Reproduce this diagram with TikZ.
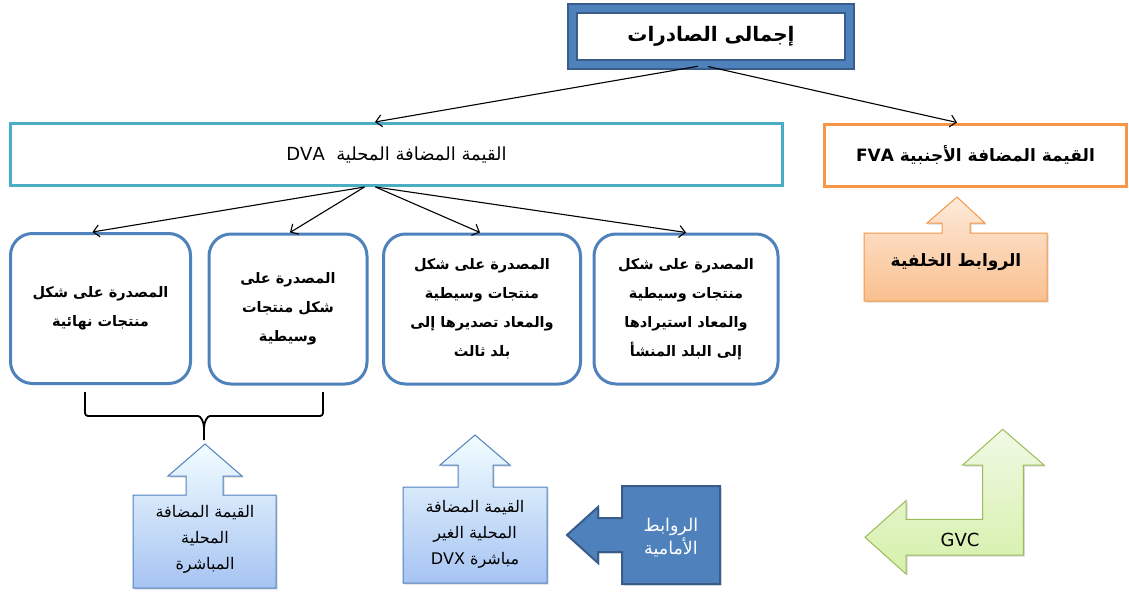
\documentclass[tikz,border=0pt]{standalone}
\usepackage{fontspec}
\setmainfont{DejaVu Sans}
\newfontfamily\arabicfont[Script=Arabic]{DejaVu Sans}
\TeXXeTstate=1
\usetikzlibrary{arrows.meta,shadows}

\newcommand\rtl[1]{\beginR #1\endR}
\newcommand\ltr[1]{\beginL #1\endL}

\definecolor{midblue}{HTML}{4F81BD}
\definecolor{darkblue}{HTML}{385D8A}
\definecolor{dvacyan}{HTML}{4BACC6}
\definecolor{fvaorange}{HTML}{F79646}
\definecolor{gvcgreen}{HTML}{9BBB59}

\begin{document}
\begin{tikzpicture}[x=1pt, y=-1pt, thick,
    title node/.style={draw=darkblue, double=midblue, double distance=7pt, line width=1.8pt,
      fill=white, inner sep=0pt, minimum width=277pt, minimum height=56pt,
      font=\arabicfont\bfseries\fontsize{20}{22}\selectfont},
    value node/.style={line width=3pt, fill=white, inner sep=0pt, minimum height=62pt},
    stage node/.style={draw=midblue, line width=3pt, rounded corners=22pt, fill=white,
      align=center, inner sep=2pt, minimum height=150pt,
      font=\arabicfont\bfseries\fontsize{14.5}{29}\selectfont},
    conn/.style={-{Straight Barb[length=6pt,width=12pt]}, line width=1.1pt},
    block arrow/.style={line width=1pt, drop shadow={shadow xshift=1.5pt, shadow yshift=-1.5pt, opacity=.3}},
    blue arrow/.style={block arrow, draw=midblue, top color=blue!10!cyan!5!white, bottom color={rgb,255:red,166;green,195;blue,242}},
    arrow text/.style={align=center, font=\arabicfont\fontsize{16}{26}\selectfont}]

  \useasboundingbox (0,0) rectangle (1129,594);

  % top level
  \node[title node] (total) at (711,36.5) {\rtl{إجمالى الصادرات}};
  \node[value node, draw=dvacyan, minimum width=772pt] (dva) at (396.5,154.5)
    {\arabicfont\fontsize{18}{20}\selectfont\rtl{القيمة المضافة المحلية\ \ \ltr{DVA}}};
  \node[value node, draw=fvaorange, minimum width=302pt] (fva) at (975.5,155)
    {\arabicfont\bfseries\fontsize{17}{19}\selectfont\rtl{القيمة المضافة الأجنبية \ltr{FVA}}};

  % exported forms
  \node[stage node, minimum width=180pt] (final) at (100.5,308.5)
    {\rtl{المصدرة على شكل}\\\rtl{منتجات نهائية}};
  \node[stage node, minimum width=158pt] (inter) at (288,309)
    {\rtl{المصدرة على}\\\rtl{شكل منتجات}\\\rtl{وسيطية}};
  \node[stage node, minimum width=197pt] (third) at (482,309)
    {\rtl{المصدرة على شكل}\\\rtl{منتجات وسيطية}\\\rtl{والمعاد تصديرها إلى}\\\rtl{بلد ثالث}};
  \node[stage node, minimum width=184pt] (back) at (686,309)
    {\rtl{المصدرة على شكل}\\\rtl{منتجات وسيطية}\\\rtl{والمعاد استيرادها}\\\rtl{إلى البلد المنشأ}};

  \path[conn, shorten <=5pt]
    ([xshift=-8pt]total.south) edge ([xshift=-21.5pt]dva.north)
    ([xshift=-8pt]total.south) edge ([xshift=-18.5pt]fva.north);
  \path[conn]
    ([xshift=-32pt]dva.south) edge ([xshift=-8pt]final.north)
    ([xshift=-32pt]dva.south) edge ([xshift=2pt]inter.north)
    ([xshift=-21pt]dva.south) edge ([xshift=-2pt]third.north)
    ([xshift=-21pt]dva.south) edge (back.north);

  % brace
  \draw[line width=1.8pt] (85,392) [rounded corners=3pt] -- (85,416) -- (195,416)
    [sharp corners] to[out=0,in=90] (204,428) -- (204,440);
  \draw[line width=1.8pt] (323,392) [rounded corners=3pt] -- (323,416) -- (213,416)
    [sharp corners] to[out=180,in=90] (204,428);

  % direct DVA
  \path[blue arrow] (133,588) -- (133,495) -- (186,495) -- (186,476) -- (168,476) -- (205,444)
    -- (242,476) -- (223,476) -- (223,495) -- (276,495) -- (276,588) -- cycle;
  \node[arrow text] (direct) at (205,539)
    {\rtl{القيمة المضافة}\\\rtl{المحلية}\\\rtl{المباشرة}};

  % indirect DVX
  \path[blue arrow] (403,583) -- (403,487) -- (458,487) -- (458,465) -- (440,465) -- (475,435)
    -- (510,465) -- (493,465) -- (493,487) -- (547,487) -- (547,583) -- cycle;
  \node[arrow text] (indirect) at (475,534)
    {\rtl{القيمة المضافة}\\\rtl{المحلية الغير}\\\rtl{مباشرة \ltr{DVX}}};

  % forward links
  \path[block arrow, line width=2pt, draw=darkblue, fill=midblue] (720,486) -- (720,584) -- (622,584)
    -- (622,552) -- (598,552) -- (598,563) -- (567,535) -- (598,507) -- (598,518) -- (622,518)
    -- (622,486) -- cycle;
  \node[arrow text, text=white, font=\arabicfont\fontsize{17.5}{23}\selectfont] (forward) at (671,538)
    {\rtl{الروابط}\\\rtl{الأمامية}};

  % backward links
  \path[block arrow, draw=fvaorange, top color={rgb,255:red,253;green,234;blue,218},
      bottom color={rgb,255:red,250;green,192;blue,143}]
    (864,301) -- (864,233) -- (942,233) -- (942,223) -- (927,223) -- (957,197) -- (985,223)
    -- (970,223) -- (970,233) -- (1047,233) -- (1047,301) -- cycle;
  \node[font=\arabicfont\bfseries\fontsize{17}{19}\selectfont] (backward) at (956,262)
    {\rtl{الروابط الخلفية}};

  % GVC
  \path[block arrow, draw=gvcgreen, top color={rgb,255:red,240;green,249;blue,228},
      bottom color={rgb,255:red,213;green,240;blue,170}]
    (1002.7,429.3) -- (1044,465) -- (1023.3,465) -- (1023.3,555) -- (906,555) -- (906,574)
    -- (865,537.3) -- (906,500.7) -- (906,519.3) -- (982.7,519.3) -- (982.7,465)
    -- (962.7,465) -- cycle;
  \node[font=\fontsize{18}{20}\selectfont] (gvc) at (960,540) {GVC};

\end{tikzpicture}
\end{document}
